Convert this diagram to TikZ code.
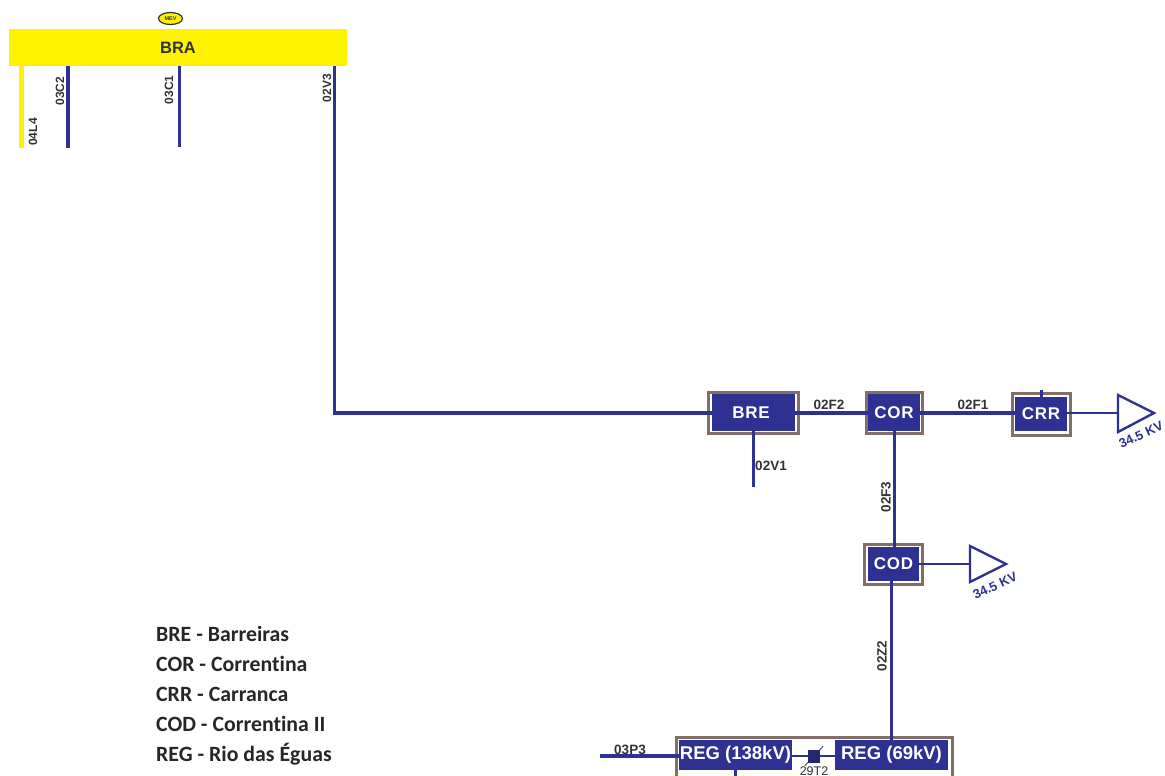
\documentclass[tikz,border=0pt]{standalone}
\usepackage{fontspec}
\setmainfont{Liberation Sans}
\newfontfamily\legendfont[Ligatures=NoCommon,Contextuals=NoAlternate]{Carlito}
\newfontfamily\stationfont[LetterSpace=4]{Liberation Sans}
\usetikzlibrary{calc,shapes.geometric}
\definecolor{linkblue}{RGB}{46,49,146}
\definecolor{busyellow}{RGB}{255,242,0}
\definecolor{boxbrown}{RGB}{128,110,104}
\definecolor{labeldark}{RGB}{50,50,50}
\tikzset{
  outerbox/.style={draw=boxbrown,line width=3pt,fill=white,inner sep=0pt},
  stationbox/.style={fill=linkblue,text=white,font=\stationfont\bfseries\fontsize{17}{17}\selectfont,inner sep=0pt,align=center},
  regbox/.style={fill=linkblue,text=white,font=\bfseries\fontsize{18.5}{18.5}\selectfont,inner sep=0pt,align=center},
  heavy/.style={draw=linkblue,line width=4pt},
  medium/.style={draw=linkblue,line width=3pt},
  thinlink/.style={draw=linkblue,line width=2.4pt},
  feederlabel/.style={font=\bfseries\fontsize{12}{12}\selectfont,text=labeldark,inner sep=0pt},
  feederlarge/.style={font=\bfseries\fontsize{13.5}{13.5}\selectfont,text=labeldark,inner sep=0pt},
  voltlabel/.style={font=\bfseries\fontsize{13}{13}\selectfont,text=linkblue,inner sep=0pt,rotate=25},
  legendtext/.style={font=\legendfont\bfseries\fontsize{21.8}{22}\selectfont,text=black!85,anchor=west,inner sep=0pt},
  loadtri/.style={draw=linkblue,line width=2.4pt,fill=white,line join=miter}
}
\begin{document}
\begin{tikzpicture}[x=1pt,y=-1pt]
\useasboundingbox (0,0) rectangle (1165,776);
\clip (0,0) rectangle (1165,776);
% Bus
\node[fill=busyellow,minimum width=338pt,minimum height=37pt,inner sep=0pt,font=\bfseries\fontsize{16.5}{16.5}\selectfont,text=labeldark] (bra) at (178,47.5) {BRA\hspace{8pt}};
\node[ellipse,draw=labeldark,line width=1.2pt,fill=busyellow,minimum width=24pt,minimum height=12pt,inner sep=0pt,font=\bfseries\fontsize{5.5}{5.5}\selectfont,text=labeldark] (mev) at (170.5,18.5) {MEV};
% free ends
\coordinate (e04) at (21.5,148);
\coordinate (e03c2) at (68.2,148);
\coordinate (e03c1) at (179,147);
\coordinate (corner) at (334.5,413);
\coordinate (e02v1) at (753,487);
\coordinate (e03p3) at (600,756);
\coordinate (ereg) at (735,776);
\coordinate (s04) at (21.5,66);
\coordinate (s03c2) at (68.2,66);
\coordinate (s03c1) at (179,66);
\coordinate (s02v3) at (334.5,66);
\coordinate (xz) at (891,600);
% Outer boxes
\node[outerbox,minimum width=90pt,minimum height=41pt] (breo) at (753.5,412.5) {};
\node[outerbox,minimum width=56pt,minimum height=41pt] (coro) at (894,412.5) {};
\node[outerbox,minimum width=58pt,minimum height=42pt] (crro) at (1041,414) {};
\node[outerbox,minimum width=58pt,minimum height=40pt] (codo) at (893,564) {};
\node[outerbox,minimum width=276pt,minimum height=80pt] (rego) at (814.5,777) {};
% Inner boxes
\node[stationbox,minimum width=83pt,minimum height=37pt] (bre) at (753.5,412.5) {BRE\hspace{5pt}};
\node[stationbox,minimum width=52pt,minimum height=37pt] (cor) at (894,412.5) {COR};
\node[stationbox,minimum width=52pt,minimum height=34pt] (crr) at (1041,414) {CRR};
\node[stationbox,minimum width=51pt,minimum height=34pt] (cod) at (893.5,564) {COD};
\node[regbox,minimum width=113pt,minimum height=30pt] (regh) at (735.5,755) {REG (138kV)};
\node[regbox,minimum width=113pt,minimum height=30pt] (regl) at (891.5,755) {REG (69kV)};
% Transformer
\node[fill=linkblue!80!black,minimum width=12pt,minimum height=13pt,inner sep=0pt] (tr) at (814,756) {};
% Load triangles
\node[inner sep=0pt,minimum size=0pt] (t1) at (1118,413) {};
\node[inner sep=0pt,minimum size=0pt] (t2) at (970,564) {};
\draw[loadtri] (1118,395) -- (1154,413) -- (1118,432) -- cycle;
\draw[loadtri] (970,546) -- (1006,564) -- (970,582) -- cycle;
% Connectors
\draw[draw=busyellow,line width=5pt] (s04) -- (e04);
\draw[draw=linkblue,line width=4.5pt] (s03c2) -- (e03c2);
\draw[draw=linkblue,line width=3pt] (s03c1) -- (e03c1);
\draw[medium,line width=3.6pt,line join=miter] (s02v3) -- (corner) -- (bre.west |- corner);
\draw[heavy] (bre.east) -- (cor.west);
\draw[heavy] (cor.east) -- (crr.west |- cor.east);
\draw[medium] (bre.south -| e02v1) -- (e02v1);
\draw[medium] (cor.south) -- (cod.north -| cor.south);
\draw[thinlink] (crr.east |- t1.center) -- (t1.center);
\draw[thinlink] (cod.east) -- (t2.center);
\draw[medium] (crr.north) -- ++(0,-7);
\draw[medium] (cod.south -| xz) -- (regl.north -| xz);
\draw[heavy] (e03p3) -- (regh.west |- e03p3);
\draw[thinlink] (regh.east |- tr.west) -- (tr.west);
\draw[thinlink] (tr.east) -- (regl.west |- tr.east);
\draw[medium] (regh.south -| ereg) -- (ereg);
\draw[draw=labeldark,line width=0.8pt] (tr.south west) ++(-3,3) -- ($(tr.north east)+(3,-3)$);
% Feeder labels
\node[feederlabel,rotate=90] (l1) at (33,132) {04L4};
\node[feederlabel,rotate=90] (l2) at (60,91) {03C2};
\node[feederlabel,rotate=90] (l3) at (169,90) {03C1};
\node[feederlabel,rotate=90] (l4) at (327,88) {02V3};
\node[feederlarge] (l5) at (829,405) {02F2};
\node[feederlarge] (l6) at (973,405) {02F1};
\node[feederlarge] (l7) at (771,466) {02V1};
\node[feederlarge,rotate=90] (l8) at (886,497) {02F3};
\node[feederlarge,rotate=90] (l9) at (882,656) {02Z2};
\node[feederlarge] (l10) at (630,750) {03P3};
\node[feederlabel,font=\fontsize{12.5}{12.5}\selectfont] (l11) at (814,771) {29T2};
\node[voltlabel] (v1) at (1141,435) {34.5 KV};
\node[voltlabel] (v2) at (995,586) {34.5 KV};
% Legend
\node[legendtext] (k1) at (156,634) {BRE - Barreiras};
\node[legendtext] (k2) at (156,664) {COR - Correntina};
\node[legendtext] (k3) at (156,694) {CRR - Carranca};
\node[legendtext] (k4) at (156,724) {COD - Correntina II};
\node[legendtext] (k5) at (156,754) {REG - Rio das Éguas};
\end{tikzpicture}
\end{document}
